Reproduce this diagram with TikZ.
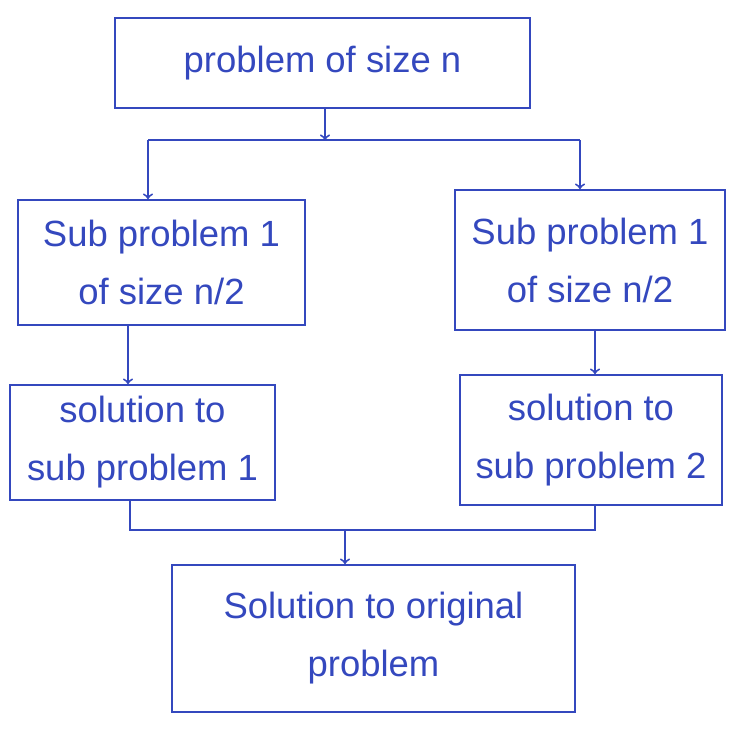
\documentclass[tikz,border=0pt]{standalone}
\usepackage{fontspec}
\setmainfont{Liberation Sans}
\usepackage{tikz}

\begin{document}
\begin{tikzpicture}[->,line width=1.1pt]
    \definecolor{ink}{RGB}{52,72,190}
    \tikzstyle{box}=[draw=ink,text=ink,rectangle,align=center,font=\huge,inner sep=2pt]
    \tikzstyle{wire}=[draw=ink,-]
    \useasboundingbox (0,0) rectangle (14.68,-14.6);
    \node[box,minimum width=8.3cm,minimum height=1.8cm] (P_n) at (6.45,-1.26) {problem of size n};
    \node[box,minimum width=5.74cm,minimum height=2.5cm] (S_1) at (3.23,-5.25) {Sub problem 1\\[8pt] of size n/2};
    \node[box,minimum width=5.4cm,minimum height=2.8cm] (S_2) at (11.8,-5.2) {Sub problem 1\\[8pt] of size n/2};
    \node[box,minimum width=5.3cm,minimum height=2.3cm] (R_1) at (2.85,-8.85) {solution to\\[8pt] sub problem 1};
    \node[box,minimum width=5.24cm,minimum height=2.6cm] (R_2) at (11.82,-8.8) {solution to\\[8pt] sub problem 2};
    \node[box,minimum width=8.06cm,minimum height=2.94cm] (R_n) at (7.47,-12.77) {Solution to original\\[8pt] problem};
    \coordinate (T) at (6.5,-2.8);
    \coordinate (T_l) at (2.96,-2.8);
    \coordinate (T_r) at (11.6,-2.8);
    \coordinate (B) at (6.9,-10.6);
    \coordinate (B_l) at (2.6,-10.6);
    \coordinate (B_r) at (11.9,-10.6);
    \draw[draw=ink] (P_n.south -| T) -- (T);
    \draw[wire] (T_l) -- (T_r);
    \draw[draw=ink] (T_l) -- (T_l |- S_1.north);
    \draw[draw=ink] (T_r) -- (T_r |- S_2.north);
    \draw[draw=ink] (S_1.south -| 2.56,0) -- (R_1.north -| 2.56,0);
    \draw[draw=ink] (S_2.south -| 11.9,0) -- (R_2.north -| 11.9,0);
    \draw[wire] (R_1.south -| B_l) -- (B_l) -- (B_r) -- (R_2.south -| B_r);
    \draw[draw=ink] (B) -- (B |- R_n.north);
  \end{tikzpicture}
\end{document}
